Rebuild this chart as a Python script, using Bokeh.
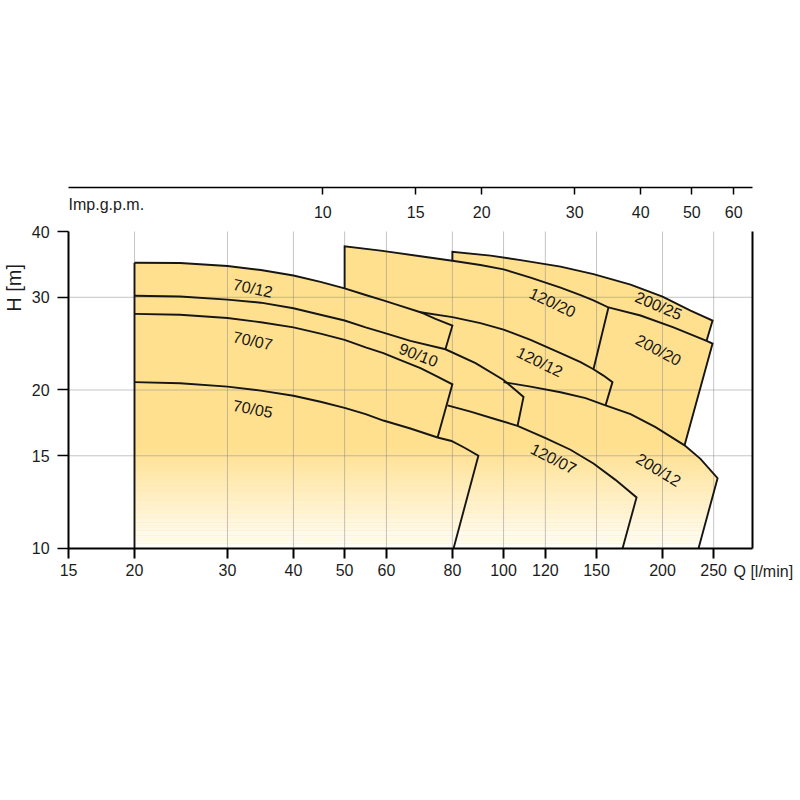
import numpy as np
from bokeh.plotting import figure
from bokeh.models import Range1d, LogScale, LogAxis, FixedTicker, PrintfTickFormatter
from bokeh.core.properties import value
from bokeh.embed import file_html
from bokeh.resources import INLINE

# ---------------- axes / ticks ----------------
Q_TICKS = [15, 20, 30, 40, 50, 60, 80, 100, 120, 150, 200, 250]
H_TICKS = [10, 15, 20, 30, 40]
GPM_TICKS = [10, 15, 20, 30, 40, 50, 60]
LPM_PER_GPM = 4.54609
Q_AXIS_MIN, Q_AXIS_MAX = 15, 296          # extent of the Q axis lines
H_AXIS_MIN, H_AXIS_MAX = 10, 40           # extent of the H axis lines
H_GPM_AXIS = 48.5                         # height at which the Imp.g.p.m. scale sits
X_VIEW = (11.149, 358.77)                 # visible Q range of the canvas
Y_VIEW = (3.380, 109.86)                  # visible H range of the canvas

# ---------------- curves (Q l/min, H m) ----------------
q_7012_top = [20, 24.4, 30, 34.7, 40, 45, 50, 54.8, 59.2, 63.8, 69.6, 74.3, 80]
h_7012_top = [34.9, 34.85, 34.4, 33.8, 33.0, 32.1, 31.2, 30.3, 29.6, 28.9, 28.1, 27.3, 26.5]
q_9010_top = [20, 24.4, 30, 34.7, 40, 45, 50, 54.8, 59.2, 66.6, 77.6, 88.5, 100, 105.3, 109.1]
h_9010_top = [30.2, 30.1, 29.7, 29.3, 28.6, 27.8, 27.1, 26.3, 25.7, 24.8, 23.9, 22.5, 20.9, 20.0, 19.4]
q_7007_top = [20, 24.4, 30, 34.7, 40, 45, 50, 54.8, 59.2, 63.8, 69.6, 74.3, 80]
h_7007_top = [27.9, 27.8, 27.4, 26.9, 26.3, 25.6, 24.9, 24.1, 23.5, 22.8, 22.0, 21.3, 20.5]
q_7005_top = [20, 24.4, 30, 34.7, 40, 45, 50, 54.8, 59.2, 66.6, 75, 79.7, 84.7, 89.6]
h_7005_top = [20.7, 20.6, 20.3, 19.95, 19.5, 19.0, 18.5, 18.0, 17.5, 16.9, 16.25, 16.0, 15.5, 15.0]
q_12007_top = [78.3, 86.6, 96.6, 106.3, 120.1, 133.9, 148, 162.9, 178.6]
h_12007_top = [18.7, 18.2, 17.6, 17.1, 16.2, 15.4, 14.5, 13.5, 12.5]
q_12020_top = [50, 58.5, 69.6, 80, 90.4, 100, 112.5, 128.2, 139.9, 148, 158]
h_12020_top = [37.5, 36.8, 35.9, 35.2, 34.55, 33.9, 32.7, 31.3, 30.3, 29.6, 28.7]
q_12012_top = [50, 69.6, 80, 90.4, 100, 112.5, 128.2, 139.9, 148, 154.6, 160.8]
h_12012_top = [29.2, 28.1, 27.5, 26.8, 26.05, 24.9, 23.5, 22.6, 21.9, 21.3, 20.7]
q_20012_top = [80, 100, 112.5, 128.2, 143.0, 156, 174, 194, 220.2, 236, 254.3]
h_20012_top = [21.6, 20.7, 20.3, 19.8, 19.3, 18.7, 18.0, 17.0, 15.7, 14.8, 13.6]
q_20025_top = [80, 94.5, 107.7, 128.2, 148, 174, 200, 226, 248.8]
h_20025_top = [36.6, 36.0, 35.3, 34.3, 33.2, 31.7, 30.1, 28.3, 27.1]
q_20020_top = [80, 158, 181.7, 209.8, 242.4, 248.8]
h_20020_top = [30.9, 28.7, 27.7, 26.3, 24.8, 24.5]

# lower end of each model's right edge
R_7012 = (77.6, 23.9)
R_9010 = (106.3, 17.1)
R_7007 = (75.0, 16.25)
R_7005 = (80.4, 10.0)
R_12007 = (168.0, 10.0)
R_12020 = (148.0, 21.9)
R_12012 = (156.0, 18.7)
R_20012 = (234.0, 10.0)
R_20025 = (242.4, 24.8)
R_20020 = (220.2, 15.7)

# model labels
MODEL_NAMES = ["70/12", "70/07", "70/05", "90/10", "120/20", "120/12", "120/07", "200/25", "200/20", "200/12"]
LABEL_Q = [33.5, 33.5, 33.5, 69.0, 123.8, 117.0, 124.3, 196.5, 196.5, 196.5]
LABEL_H = [31.2, 24.8, 18.4, 23.3, 29.3, 22.6, 14.8, 28.9, 23.8, 14.1]
LABEL_ANGLE = [-12, -12, -11, -21, -25, -26, -27, -23, -28, -31]

FONT = "Liberation Sans"
FILL = "#FFE08E"
INK = "#161616"
TXT = "#1c1c1c"


def pts(q, h):
    return list(zip(q, h))


def rev_upto(q, h, qmax):
    return [(a, b) for a, b in zip(q, h) if a <= qmax + 1e-9][::-1]


def rev_between(q, h, qmin, qmax):
    return [(a, b) for a, b in zip(q, h) if qmin - 1e-9 <= a <= qmax + 1e-9][::-1]


p7012 = pts(q_7012_top, h_7012_top) + [R_7012] + rev_upto(q_9010_top, h_9010_top, R_7012[0])
p9010 = (pts(q_9010_top, h_9010_top) + [R_9010] + rev_upto(q_12007_top, h_12007_top, R_9010[0])
         + pts(q_7007_top, h_7007_top)[::-1])
p7007 = pts(q_7007_top, h_7007_top) + [R_7007] + rev_upto(q_7005_top, h_7005_top, R_7007[0])
p7005 = pts(q_7005_top, h_7005_top) + [R_7005, (q_7005_top[0], H_AXIS_MIN)]
p12007 = pts(q_12007_top, h_12007_top) + [R_12007, (R_7007[0], H_AXIS_MIN), R_7007]
p12020 = pts(q_12020_top, h_12020_top) + [R_12020] + rev_upto(q_12012_top, h_12012_top, R_12020[0])
p12012 = pts(q_12012_top, h_12012_top) + [R_12012] + rev_upto(q_20012_top, h_20012_top, R_12012[0])
p20025 = pts(q_20025_top, h_20025_top) + [R_20025] + rev_upto(q_20020_top, h_20020_top, R_20025[0])
p20020 = (pts(q_20020_top, h_20020_top)[1:] + [R_20020]
          + rev_between(q_20012_top, h_20012_top, R_12012[0], R_20020[0] - 1)
          + [(q_12012_top[-1], h_12012_top[-1]), R_12020])
p20012 = pts(q_20012_top, h_20012_top)[1:] + [R_20012, (q_20012_top[1], H_AXIS_MIN)]

polys = [p20025, p20020, p20012, p12020, p12012, p12007, p9010, p7012, p7007, p7005]

h_t1_at_50 = h_7012_top[q_7012_top.index(q_12020_top[0])]
h_12020_at_80 = h_12020_top[q_12020_top.index(q_20025_top[0])]

lines = [
    pts(q_7012_top, h_7012_top) + [R_7012],
    pts(q_9010_top, h_9010_top) + [R_9010],
    pts(q_7007_top, h_7007_top) + [R_7007],
    pts(q_7005_top, h_7005_top) + [R_7005],
    pts(q_12007_top, h_12007_top) + [R_12007],
    [(q_12020_top[0], h_t1_at_50)] + pts(q_12020_top, h_12020_top) + [R_12020],
    pts(q_12012_top, h_12012_top)[1:] + [R_12012],
    pts(q_20012_top, h_20012_top)[1:] + [R_20012],
    [(q_20025_top[0], h_12020_at_80)] + pts(q_20025_top, h_20025_top) + [R_20025],
    pts(q_20020_top, h_20020_top)[1:] + [R_20020],
    [(q_7012_top[0], H_AXIS_MIN), (q_7012_top[0], h_7012_top[0])],
]

p = figure(width=796, height=796, x_axis_type="log", y_axis_type="log",
           x_range=Range1d(*X_VIEW), y_range=Range1d(*Y_VIEW),
           output_backend="svg", toolbar_location=None, min_border=0)
p.title.visible = False
p.outline_line_color = None
p.xgrid.visible = False
p.ygrid.visible = False
p.background_fill_color = "white"
p.border_fill_color = "white"

# fills
p.patches([[a for a, _ in poly] for poly in polys], [[b for _, b in poly] for poly in polys],
          fill_color=FILL, line_color=FILL, line_width=1)

# fade to white toward the bottom
GRAD_TOP = 15.7
edges = np.logspace(np.log10(H_AXIS_MIN), np.log10(GRAD_TOP), 41)
t = (np.arange(40) + 0.5) / 40.0
alphas = 0.95 * (1 - t)
p.quad(left=q_7012_top[0], right=260, bottom=edges[:-1], top=edges[1:],
       fill_color="white", fill_alpha=alphas, line_color=None)

# grid
grid_q = Q_TICKS[1:]
p.segment(x0=grid_q, y0=[H_AXIS_MIN] * len(grid_q), x1=grid_q, y1=[H_AXIS_MAX] * len(grid_q),
          line_color="#8c8c8c", line_alpha=0.5, line_width=1)
grid_h = H_TICKS[1:-1]
p.segment(x0=[Q_AXIS_MIN] * len(grid_h), y0=grid_h, x1=[Q_AXIS_MAX] * len(grid_h), y1=grid_h,
          line_color="#8c8c8c", line_alpha=0.5, line_width=1)

# outlines
p.multi_line([[a for a, _ in ln] for ln in lines], [[b for _, b in ln] for ln in lines],
             line_color=INK, line_width=1.9, line_join="miter")

# model labels
p.text(x=LABEL_Q, y=LABEL_H, text=MODEL_NAMES, angle=LABEL_ANGLE, angle_units="deg",
       text_font=value(FONT), text_font_size="16px", text_align="center",
       text_baseline="middle", text_color=INK)

# bottom axis (Q)
xa = p.xaxis[0]
xa.fixed_location = H_AXIS_MIN
xa.bounds = (Q_AXIS_MIN, Q_AXIS_MAX)
xa.ticker = FixedTicker(ticks=Q_TICKS)
xa.formatter = PrintfTickFormatter(format="%d")
xa.major_tick_out = 10
xa.major_tick_in = 0
xa.minor_tick_line_color = None
xa.axis_line_width = 2
xa.major_tick_line_width = 2
xa.axis_line_color = "black"
xa.major_label_standoff = 6
xa.major_label_text_font = FONT
xa.major_label_text_font_size = "16px"
xa.major_label_text_color = TXT

# left axis (H)
ya = p.yaxis[0]
ya.fixed_location = Q_AXIS_MIN
ya.bounds = (H_AXIS_MIN, H_AXIS_MAX)
ya.ticker = FixedTicker(ticks=H_TICKS)
ya.formatter = PrintfTickFormatter(format="%d")
ya.major_tick_out = 11
ya.major_tick_in = 0
ya.minor_tick_line_color = None
ya.axis_line_width = 2
ya.major_tick_line_width = 1.5
ya.major_label_standoff = 8
ya.major_label_text_font = FONT
ya.major_label_text_font_size = "16px"
ya.major_label_text_color = TXT

# right frame line
ra = LogAxis(ticker=FixedTicker(ticks=[]), bounds=(H_AXIS_MIN, H_AXIS_MAX),
             fixed_location=Q_AXIS_MAX, major_tick_out=0, major_tick_in=0,
             minor_tick_line_color=None, axis_line_width=2, major_label_text_alpha=0)
p.add_layout(ra, "right")

# top Imp.g.p.m. scale
p.extra_x_ranges = {"gpm": Range1d(X_VIEW[0] / LPM_PER_GPM, X_VIEW[1] / LPM_PER_GPM)}
p.extra_x_scales = {"gpm": LogScale()}
ta = LogAxis(x_range_name="gpm", ticker=FixedTicker(ticks=GPM_TICKS),
             fixed_location=H_GPM_AXIS,
             bounds=(Q_AXIS_MIN / LPM_PER_GPM, Q_AXIS_MAX / LPM_PER_GPM),
             major_tick_in=7, major_tick_out=0, minor_tick_line_color=None,
             axis_line_width=1.5, major_tick_line_width=1.5, major_label_text_alpha=0)
p.add_layout(ta, "above")

GPM_LABEL_H = 43.65
p.text(x=[g * LPM_PER_GPM for g in GPM_TICKS], y=[GPM_LABEL_H] * len(GPM_TICKS),
       text=[str(g) for g in GPM_TICKS], text_font=value(FONT), text_font_size="16px",
       text_align="center", text_baseline="middle", text_color=TXT)
p.text(x=[Q_AXIS_MIN], y=[45.0], text=["Imp.g.p.m."], text_font=value(FONT),
       text_font_size="16px", text_align="left", text_baseline="middle", text_color=TXT)

# axis titles
p.text(x=[11.82], y=[31.25], text=["H [m]"], angle=90, angle_units="deg",
       text_font=value(FONT), text_font_size="20px", text_align="center",
       text_baseline="middle", text_color=TXT)
p.text(x=[272.6], y=[9.04], text=["Q [l/min]"], text_font=value(FONT), text_font_size="16px",
       text_align="left", text_baseline="middle", text_color=TXT)

open("out.html", "w").write(file_html(p, INLINE))
